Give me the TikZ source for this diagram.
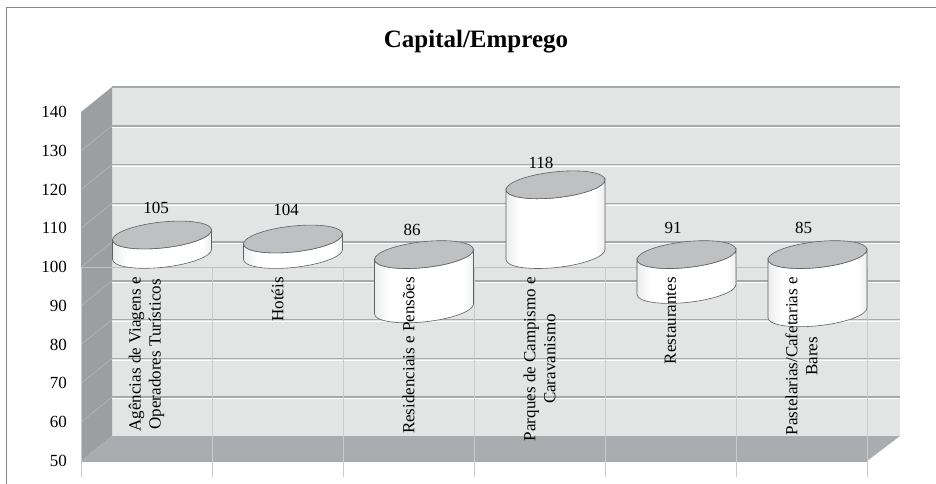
\documentclass[tikz,border=0pt]{standalone}
\usepackage{fontspec}
\setmainfont{Liberation Serif}

\definecolor{wallgray}{RGB}{227,228,228}
\definecolor{sidegray}{RGB}{155,159,161}
\definecolor{floorgray}{RGB}{170,173,175}
\definecolor{gridgray}{RGB}{165,169,171}
\definecolor{sidegrid}{RGB}{182,186,188}
\definecolor{tickgray}{RGB}{200,203,205}
\definecolor{framegray}{RGB}{134,138,138}
\definecolor{cyldark}{RGB}{135,137,138}
\definecolor{cylmid}{RGB}{190,191,192}
\definecolor{cyltopgray}{RGB}{190,192,193}
\definecolor{cylline}{RGB}{95,97,98}

\pgfdeclarehorizontalshading{cylside}{100bp}{color(0bp)=(cyldark); color(8bp)=(cylmid); color(32bp)=(white); color(70bp)=(white); color(90bp)=(cylmid); color(100bp)=(cyldark)}

\begin{document}
\begin{tikzpicture}[x=1pt,y=-1pt,
    txt/.style={font=\fontsize{17}{20}\selectfont,inner sep=0pt},
    axlab/.style={txt,anchor=east},
    vallab/.style={txt},
    catlab/.style={txt,rotate=90,anchor=east,align=center},
    cylbody/.style={shading=cylside,draw=cylline,line width=0.6pt},
    cyltop/.style={fill=cyltopgray,draw=cylline,line width=0.6pt}]
      \useasboundingbox (0,0) rectangle (936,484);
      \draw[framegray,line width=1pt] (940,8) -- (6,8) -- (6,490);

      % walls and floor
      \fill[wallgray] (112,87) rectangle (900,436);
      \fill[sidegray] (81,112) -- (112,87) -- (112,436) -- (81,461) -- cycle;
      \fill[floorgray] (81,461) -- (112,436) -- (900,436) -- (867,461) -- cycle;
      \draw[gridgray,line width=1.5pt] (112,87) -- (900,87);
      \draw[gridgray,line width=1pt] (81,461) -- (867,461);

      % gridlines
      \foreach \v in {60,70,...,130} {
        \draw[gridgray,line width=1.5pt] (112,{87+(140-\v)*3.877}) -- (900,{87+(140-\v)*3.877});
        \draw[white,line width=0.6pt] (112,{88.5+(140-\v)*3.877}) -- (900,{88.5+(140-\v)*3.877});
        \draw[sidegrid,line width=0.6pt] (81,{112+(140-\v)*3.877}) -- (112,{87+(140-\v)*3.877});
      }

      % category axis at 100
      \draw[tickgray!85!gray,line width=1pt] (81,267.1) -- (867,267.1);
      \foreach \i in {0,...,6}
        \draw[tickgray,line width=0.6pt] ({81+131*\i},267.1) -- ({81+131*\i},477);

      % cylinders
      \foreach \cx/\yt/\h in {162/235/19.4, 293/239/15.5, 424/254.6/54.3, 555.5/184.8/69.8, 686.5/254.6/34.9, 817.5/254.6/58.2} {
        \begin{scope}[shift={(\cx,\yt)},yslant=0.1]
          \path[cylbody] (-49.5,0) -- (-49.5,\h) arc[start angle=180,end angle=0,x radius=49.5,y radius=13]
            -- (49.5,0) arc[start angle=0,end angle=180,x radius=49.5,y radius=13] -- cycle;
          \draw[cyltop] (0,0) ellipse[x radius=49.5,y radius=13];
        \end{scope}
      }

      % axis labels
      \foreach \v in {50,60,...,140}
        \node[axlab] (y\v) at (67,{112+(140-\v)*3.877}) {\v};

      % values
      \node[vallab] (v105) at (156,208) {105};
      \node[vallab] (v104) at (286,210) {104};
      \node[vallab] (v86) at (412,230) {86};
      \node[vallab] (v118) at (541,162.5) {118};
      \node[vallab] (v91) at (673,228) {91};
      \node[vallab] (v85) at (803.5,228) {85};

      % categories
      \node[catlab] (agencias) at (146.5,277) {Agências de Viagens e\\Operadores Turísticos};
      \node[catlab] (hoteis) at (277.5,277) {Hotéis};
      \node[catlab] (resid) at (408.5,277) {Residenciais e Pensões};
      \node[catlab] (parques) at (539.5,277) {Parques de Campismo e\\Caravanismo};
      \node[catlab] (rest) at (670.5,277) {Restaurantes};
      \node[catlab] (past) at (801.5,277) {Pastelarias/Cafetarias e\\Bares};

      \node[font=\bfseries\fontsize{25}{30}\selectfont,anchor=base] (title) at (476,48) {Capital/Emprego};
    \end{tikzpicture}
\end{document}
